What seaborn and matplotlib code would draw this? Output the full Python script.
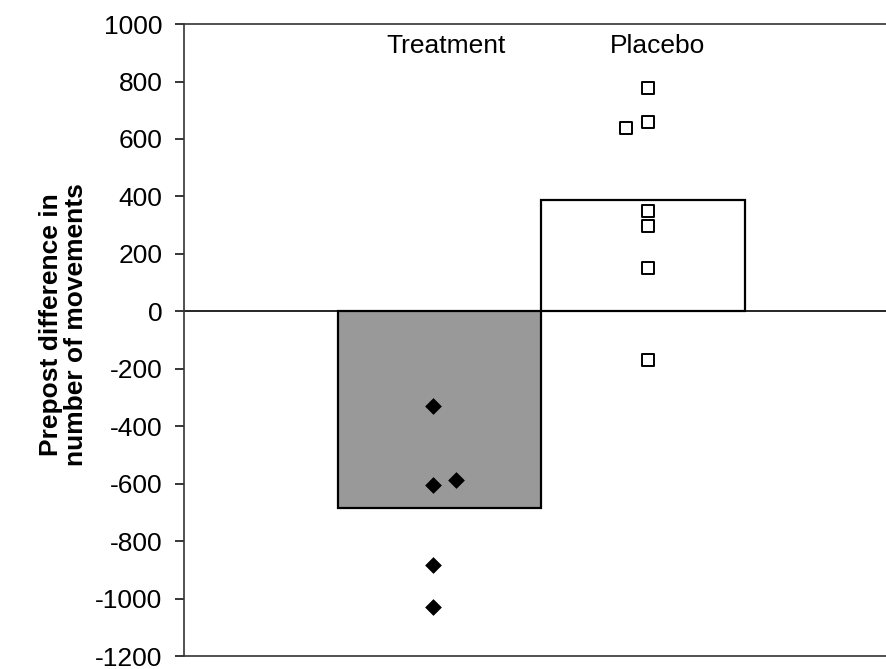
import matplotlib
matplotlib.use("Agg")
import matplotlib.pyplot as plt
import seaborn as sns
import pandas as pd
import numpy as np

# Pre/post change in number of movements for each subject
groups = ["Treatment", "Placebo"]
treatment_values = [-330, -603, -586, -884, -1028]
placebo_values = [779, 659, 637, 348, 298, 151, -170]

# horizontal placement of individual points relative to the group centre
treatment_dx = [-0.032, -0.032, 0.081, -0.032, -0.032]
placebo_dx = [0.025, 0.025, -0.084, 0.025, 0.025, 0.025, 0.025]

yticks = list(range(-1200, 1001, 200))

df = pd.DataFrame({
    "group": ["Treatment"] * len(treatment_values) + ["Placebo"] * len(placebo_values),
    "value": treatment_values + placebo_values,
})

sns.set_theme(style="white")
plt.rcParams["font.family"] = ["Liberation Sans", "DejaVu Sans"]

fig = plt.figure(figsize=(8.87, 6.69), dpi=100)
ax = fig.add_axes([0.2074, 0.0194, 0.7926, 0.9446])

# group means as bars
sns.barplot(data=df, x="group", y="value", order=groups, estimator="mean",
            errorbar=None, width=1.0, palette=["#999999", "white"],
            hue="group", hue_order=groups, legend=False,
            edgecolor="black", linewidth=1.6, ax=ax)

# individual subjects
tx = [0 + d for d in treatment_dx]
px = [1 + d for d in placebo_dx]
sns.scatterplot(x=tx, y=treatment_values, marker="D", s=64, color="black",
                edgecolor="black", linewidth=0.5, ax=ax, zorder=5)
sns.scatterplot(x=px, y=placebo_values, marker="s", s=72, color="white",
                edgecolor="black", linewidth=1.4, ax=ax, zorder=5)

ax.axhline(0, color="black", lw=1.2, zorder=1)

ax.set_xlim(-1.256, 2.2)
ax.set_ylim(-1200, 1000)
ax.set_yticks(yticks)
ax.set_yticklabels([str(t) for t in yticks])
ax.set_xticks([])
ax.set_xlabel("")

ax.tick_params(axis="y", direction="out", length=6.5, width=1.1, pad=9,
               labelsize=19, colors="black", left=True)

for side in ["left", "top", "bottom"]:
    ax.spines[side].set_visible(True)
    ax.spines[side].set_color("#333333")
    ax.spines[side].set_linewidth(1.2)
ax.spines["right"].set_visible(False)

# group names inside the top of the plot
label_dx = [0.03, 0.07]
for i, name in enumerate(groups):
    ax.text(i + label_dx[i], 922, name, ha="center", va="center",
            fontsize=19, color="black")

ax.set_ylabel("Prepost difference in\nnumber of movements", fontsize=19,
              fontweight="bold", color="black", linespacing=1.05)
ax.yaxis.set_label_coords(-0.137, 0.524)

fig.savefig("out.png", dpi=100)
